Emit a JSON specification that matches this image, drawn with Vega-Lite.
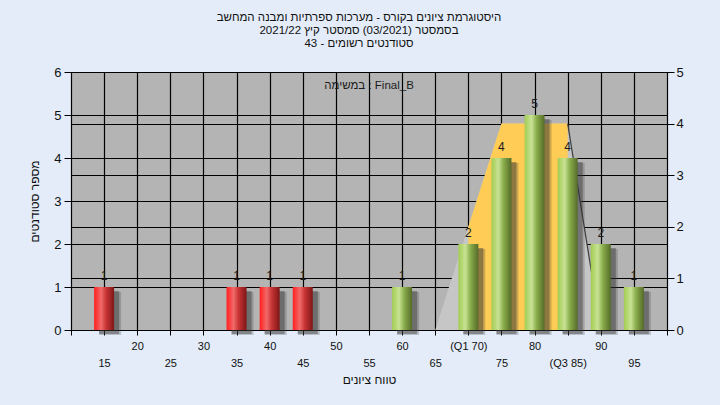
{
  "$schema": "https://vega.github.io/schema/vega-lite/v6.json",
  "width": 596,
  "height": 258,
  "autosize": "none",
  "padding": {"left": 71, "top": 72, "right": 53, "bottom": 75},
  "background": "#E3ECF8",
  "config": {
    "font": "Liberation Sans",
    "view": {"fill": "#B4B4B4", "stroke": "#000000", "strokeWidth": 1},
    "axis": {
      "domainColor": "#000000",
      "tickColor": "#000000",
      "gridColor": "#000000",
      "gridOpacity": 1,
      "gridWidth": 1.2,
      "labelColor": "#111111",
      "titleColor": "#111111",
      "titleFontWeight": "normal",
      "titleFontSize": 12,
      "labelFont": "Liberation Sans",
      "titleFont": "Liberation Sans"
    }
  },
  "title": {
    "text": [
      "היסטוגרמת ציונים בקורס - מערכות ספרתיות ומבנה המחשב",
      "בסמסטר  (03/2021)  סמסטר קיץ 2021/22",
      "סטודנטים רשומים - 43"
    ],
    "fontSize": 11.5,
    "fontWeight": "normal",
    "color": "#111111",
    "lineHeight": 13,
    "anchor": "middle",
    "offset": 17,
    "dx": -10
  },
  "datasets": {
    "bars": [
      {"grade": 15, "count": 1, "grp": "fail"},
      {"grade": 35, "count": 1, "grp": "fail"},
      {"grade": 40, "count": 1, "grp": "fail"},
      {"grade": 45, "count": 1, "grp": "fail"},
      {"grade": 60, "count": 1, "grp": "pass"},
      {"grade": 70, "count": 2, "grp": "pass"},
      {"grade": 75, "count": 4, "grp": "pass"},
      {"grade": 80, "count": 5, "grp": "pass"},
      {"grade": 85, "count": 4, "grp": "pass"},
      {"grade": 90, "count": 2, "grp": "pass"},
      {"grade": 95, "count": 1, "grp": "pass"}
    ],
    "whisker": [
      {"grade": 65, "v": 0},
      {"grade": 75, "v": 4},
      {"grade": 85, "v": 4},
      {"grade": 90, "v": 0}
    ],
    "iqr": [
      {"grade": 70, "v": 2},
      {"grade": 75, "v": 4},
      {"grade": 85, "v": 4}
    ],
    "edge": [
      {"grade": 85, "v": 4},
      {"grade": 90, "v": 0}
    ]
  },
  "encoding": {
    "x": {
      "field": "grade",
      "type": "quantitative",
      "scale": {"domain": [10, 100], "nice": false, "zero": false, "padding": 0},
      "axis": {
        "values": [10, 15, 20, 25, 30, 35, 40, 45, 50, 55, 60, 65, 70, 75, 80, 85, 90, 95, 100],
        "labelExpr": "datum.value == 10 || datum.value == 100 ? '' : datum.value == 70 ? '(Q1 70)' : datum.value == 85 ? ['', '(Q3 85)'] : datum.value % 10 == 5 ? ['', datum.label] : datum.label",
        "labelFontSize": 11,
        "labelLineHeight": 17,
        "labelBaseline": "top",
        "labelPadding": 5,
        "tickSize": 5,
        "labelOverlap": false,
        "labelFlush": false,
        "grid": true,
        "title": "טווח ציונים",
        "titlePadding": 6
      }
    }
  },
  "layer": [
    {
      "layer": [
        {
          "data": {"name": "whisker"},
          "mark": {"type": "area", "color": "#C6C6C6", "opacity": 1},
          "encoding": {
            "y": {
              "field": "v",
              "type": "quantitative",
              "scale": {"domain": [0, 5], "nice": false},
              "axis": {
                "orient": "right",
                "values": [0, 1, 2, 3, 4, 5],
                "title": null,
                "tickSize": 7,
                "labelPadding": 2,
                "labelFontSize": 13,
                "grid": true
              }
            }
          }
        },
        {
          "data": {"name": "iqr"},
          "mark": {"type": "area", "color": "#FFCC55", "opacity": 1},
          "encoding": {"y": {"field": "v", "type": "quantitative"}}
        },
        {
          "data": {"name": "edge"},
          "mark": {"type": "line", "color": "#3C3C3C", "strokeWidth": 1.2},
          "encoding": {"y": {"field": "v", "type": "quantitative"}}
        }
      ]
    },
    {
      "data": {"name": "bars"},
      "encoding": {
        "y": {
          "field": "count",
          "type": "quantitative",
          "scale": {"domain": [0, 6], "nice": false},
          "axis": {
            "orient": "left",
            "values": [0, 1, 2, 3, 4, 5, 6],
            "title": "מספר סטודנטים",
            "titlePadding": 12,
            "tickSize": 7,
            "labelPadding": 3,
            "labelFontSize": 13,
            "grid": true
          }
        }
      },
      "layer": [
        {
          "mark": {"type": "bar", "width": 22, "color": "#3A3A3A", "opacity": 0.25, "xOffset": 6, "yOffset": 5}
        },
        {
          "mark": {"type": "bar", "width": 20, "color": "#303030", "opacity": 0.4, "xOffset": 5, "yOffset": 4}
        },
        {
          "transform": [{"filter": "datum.grp == 'fail'"}],
          "mark": {
            "type": "bar",
            "width": 20,
            "color": {
              "gradient": "linear",
              "x1": 0, "x2": 1, "y1": 0, "y2": 0,
              "stops": [
                {"offset": 0, "color": "#FF1E1E"},
                {"offset": 0.35, "color": "#F26A6A"},
                {"offset": 0.6, "color": "#C83434"},
                {"offset": 1, "color": "#7E1616"}
              ]
            }
          }
        },
        {
          "transform": [{"filter": "datum.grp == 'pass'"}],
          "mark": {
            "type": "bar",
            "width": 20,
            "color": {
              "gradient": "linear",
              "x1": 0, "x2": 1, "y1": 0, "y2": 0,
              "stops": [
                {"offset": 0, "color": "#A2CC52"},
                {"offset": 0.35, "color": "#C8E294"},
                {"offset": 0.6, "color": "#8AAE4C"},
                {"offset": 1, "color": "#556B28"}
              ]
            }
          }
        },
        {
          "mark": {"type": "text", "fontSize": 12, "color": "#1C1C1C", "baseline": "alphabetic", "dy": -7},
          "encoding": {"text": {"field": "count", "type": "quantitative"}}
        },
        {
          "data": {"values": [{"grade": 55, "count": 6, "label": "במשימה : Final_B"}]},
          "mark": {"type": "text", "fontSize": 11.5, "color": "#1C1C1C", "baseline": "middle", "dy": 14},
          "encoding": {"text": {"field": "label", "type": "nominal"}}
        }
      ]
    }
  ],
  "resolve": {"scale": {"y": "independent"}}
}
